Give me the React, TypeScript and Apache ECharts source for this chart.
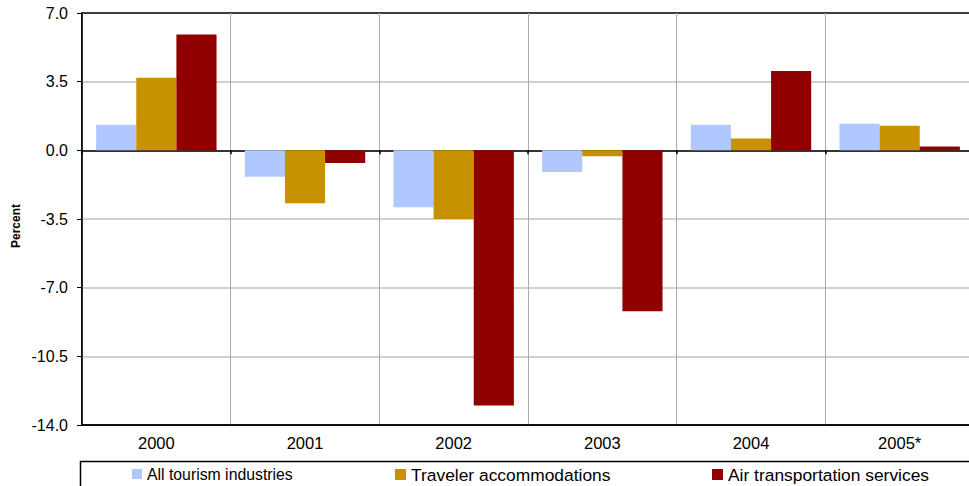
import React, { useEffect, useRef } from "react";
import * as echarts from "echarts";

const years = ["2000", "2001", "2002", "2003", "2004", "2005*"];
const allTourism = [1.3, -1.35, -2.9, -1.1, 1.3, 1.35];
const travelerAccommodations = [3.7, -2.7, -3.5, -0.3, 0.6, 1.25];
const airTransportation = [5.9, -0.65, -13.0, -8.2, 4.05, 0.2];
const seriesNames = [
  "All tourism industries",
  "Traveler accommodations",
  "Air transportation services",
];
const seriesColors = ["#B0C8FF", "#C89100", "#900000"];
const legendLefts = [132, 395, 712];
const legendFontSizes = [15.8, 17.4, 17.4];
const legendMarkerSizes = [10, 11, 11];

const FONT = "'Liberation Sans', Arial, sans-serif";

export default function App() {
  const ref = useRef<HTMLDivElement>(null);

  useEffect(() => {
    if (!ref.current) return;
    const chart = echarts.init(ref.current, null, { renderer: "svg" });
    const values = [allTourism, travelerAccommodations, airTransportation];

    chart.setOption({
      animation: false,
      backgroundColor: "#ffffff",
      textStyle: { fontFamily: FONT, color: "#000" },
      grid: {
        left: 82,
        top: 13,
        width: 892,
        height: 412,
        show: true,
        borderColor: "#000",
        borderWidth: 1.5,
        backgroundColor: "transparent",
      },
      xAxis: [
        {
          // bottom axis: frame line and year labels
          type: "category",
          data: years,
          position: "bottom",
          axisLine: { onZero: false, lineStyle: { color: "#000", width: 1.5 } },
          axisTick: { show: false },
          axisLabel: { fontSize: 16.5, color: "#000", margin: 9, fontFamily: FONT },
          splitLine: { show: true, lineStyle: { color: "#aaaaaa", width: 1 } },
        },
        {
          // zero line with short downward ticks between years
          type: "category",
          data: years,
          position: "top",
          axisLine: { onZero: true, lineStyle: { color: "#000", width: 1.5 } },
          axisTick: { show: true, inside: true, length: 4, lineStyle: { color: "#000", width: 1.5 } },
          axisLabel: { show: false },
          splitLine: { show: false },
        },
      ],
      yAxis: {
        type: "value",
        min: -14,
        max: 7,
        interval: 3.5,
        axisLine: { show: true, lineStyle: { color: "#000", width: 1.5 } },
        axisTick: { show: true, length: 5, lineStyle: { color: "#000", width: 1 } },
        axisLabel: {
          fontSize: 16,
          color: "#000",
          margin: 14,
          fontFamily: FONT,
          formatter: (v: number) => v.toFixed(1),
        },
        splitLine: {
          show: true,
          showMinLine: false,
          showMaxLine: false,
          lineStyle: { color: "#c0c0c0", width: 1.5 },
        },
      },
      legend: seriesNames.map((name, i) => ({
        data: [name],
        left: legendLefts[i],
        top: 466,
        padding: 0,
        itemWidth: legendMarkerSizes[i],
        itemHeight: legendMarkerSizes[i],
        itemGap: 0,
        icon: "rect",
        textStyle: {
          fontSize: legendFontSizes[i],
          color: "#000",
          fontFamily: FONT,
        },
      })),
      graphic: [
        {
          type: "rect",
          shape: { x: 80.5, y: 461.5, width: 960, height: 60 },
          style: { fill: "none", stroke: "#000", lineWidth: 1.5 },
          silent: true,
          z: -1,
        },
        {
          type: "text",
          x: 16,
          y: 226,
          rotation: Math.PI / 2,
          style: {
            text: "Percent",
            font: `bold 12px ${FONT}`,
            fill: "#000",
            align: "center",
            verticalAlign: "middle",
          },
        },
      ],
      series: seriesNames.map((name, i) => ({
        name,
        type: "bar",
        xAxisIndex: 0,
        data: values[i],
        barGap: "0%",
        barCategoryGap: "19%",
        itemStyle: { color: seriesColors[i] },
      })),
    });

    return () => chart.dispose();
  }, []);

  return (
    <div
      ref={ref}
      style={{ position: "fixed", left: 0, top: 0, width: 980, height: 486 }}
    />
  );
}
